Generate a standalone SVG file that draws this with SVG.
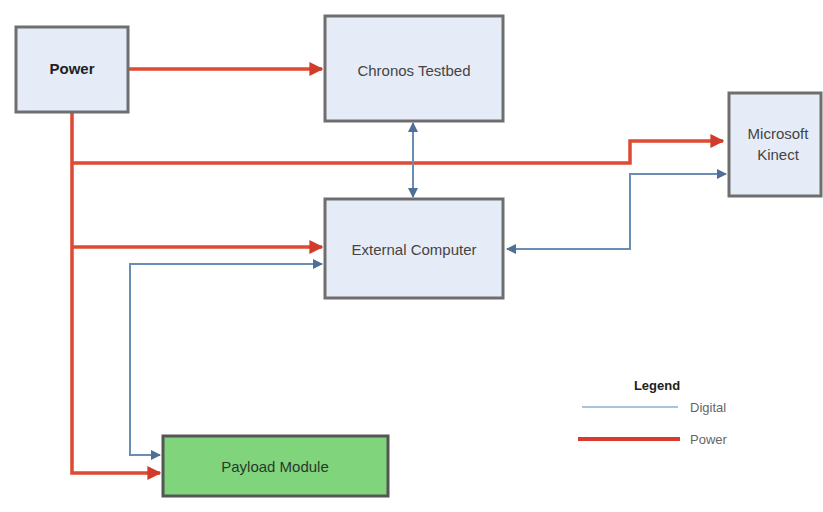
<svg xmlns="http://www.w3.org/2000/svg" width="823" height="512" viewBox="0 0 823 512">
  <style>
    .box { fill: #e6ecf7; stroke: #6e6e6e; stroke-width: 3; }
    .green { fill: #7fd47c; stroke: #555; stroke-width: 3; }
    .lbl { font-family: "Liberation Sans", Arial, sans-serif; font-size: 15px; fill: #444; text-anchor: middle; }
    .bold { font-weight: bold; fill: #222; }
    .pwr { fill: none; stroke: #de4a32; stroke-width: 3.5; }
    .dig { fill: none; stroke: #6a8db5; stroke-width: 2; }
  </style>
  <defs>
    <marker id="arrowRed" viewBox="0 0 10 10" refX="9" refY="5" markerWidth="4" markerHeight="4" orient="auto">
      <path d="M0,0 L10,5 L0,10 z" fill="#d23a2a"/>
    </marker>
    <marker id="arrowBlue" viewBox="0 0 10 10" refX="9" refY="5" markerWidth="5" markerHeight="5" orient="auto-start-reverse">
      <path d="M0,0 L10,5 L0,10 z" fill="#4f6f96"/>
    </marker>
  </defs>
  <rect width="823" height="512" fill="#ffffff"/>

  <g id="connectors">
    <!-- power feeds -->
    <path class="pwr" d="M128,69 H322" marker-end="url(#arrowRed)"/>
    <path class="pwr" d="M72,112 V473 H160" marker-end="url(#arrowRed)"/>
    <path class="pwr" d="M72,163 H630 V141 H723" marker-end="url(#arrowRed)"/>
    <path class="pwr" d="M72,247 H322" marker-end="url(#arrowRed)"/>
    <!-- digital links -->
    <path class="dig" d="M413,123 V197" marker-start="url(#arrowBlue)" marker-end="url(#arrowBlue)"/>
    <path class="dig" d="M726,174 H630 V249 H507" marker-start="url(#arrowBlue)" marker-end="url(#arrowBlue)"/>
    <path class="dig" d="M322,264 H130 V455 H160" marker-start="url(#arrowBlue)" marker-end="url(#arrowBlue)"/>
  </g>

  <g id="power">
    <rect class="box" x="16" y="27" width="112" height="85"/>
    <text class="lbl bold" x="72" y="74">Power</text>
  </g>

  <g id="chronos-testbed">
    <rect class="box" x="325" y="16" width="178" height="105"/>
    <text class="lbl" x="414" y="76">Chronos Testbed</text>
  </g>

  <g id="microsoft-kinect">
    <rect class="box" x="729" y="93" width="92" height="103"/>
    <text class="lbl" x="778" y="139">Microsoft</text>
    <text class="lbl" x="778" y="160">Kinect</text>
  </g>

  <g id="external-computer">
    <rect class="box" x="325" y="199" width="178" height="99"/>
    <text class="lbl" x="414" y="255">External Computer</text>
  </g>

  <g id="payload-module">
    <rect class="green" x="163" y="436" width="225" height="60"/>
    <text class="lbl" x="275" y="472" style="fill:#2a3a2a">Payload Module</text>
  </g>

  <g id="legend">
    <text class="lbl bold" x="657" y="390" style="font-size:13px">Legend</text>
    <line x1="582" y1="407" x2="678" y2="407" stroke="#a9c3dc" stroke-width="2"/>
    <text class="lbl" x="690" y="412" style="font-size:13px;text-anchor:start;fill:#666">Digital</text>
    <line x1="578" y1="439" x2="680" y2="439" stroke="#d93a2c" stroke-width="4"/>
    <text class="lbl" x="690" y="444" style="font-size:13px;text-anchor:start;fill:#666">Power</text>
  </g>
</svg>
